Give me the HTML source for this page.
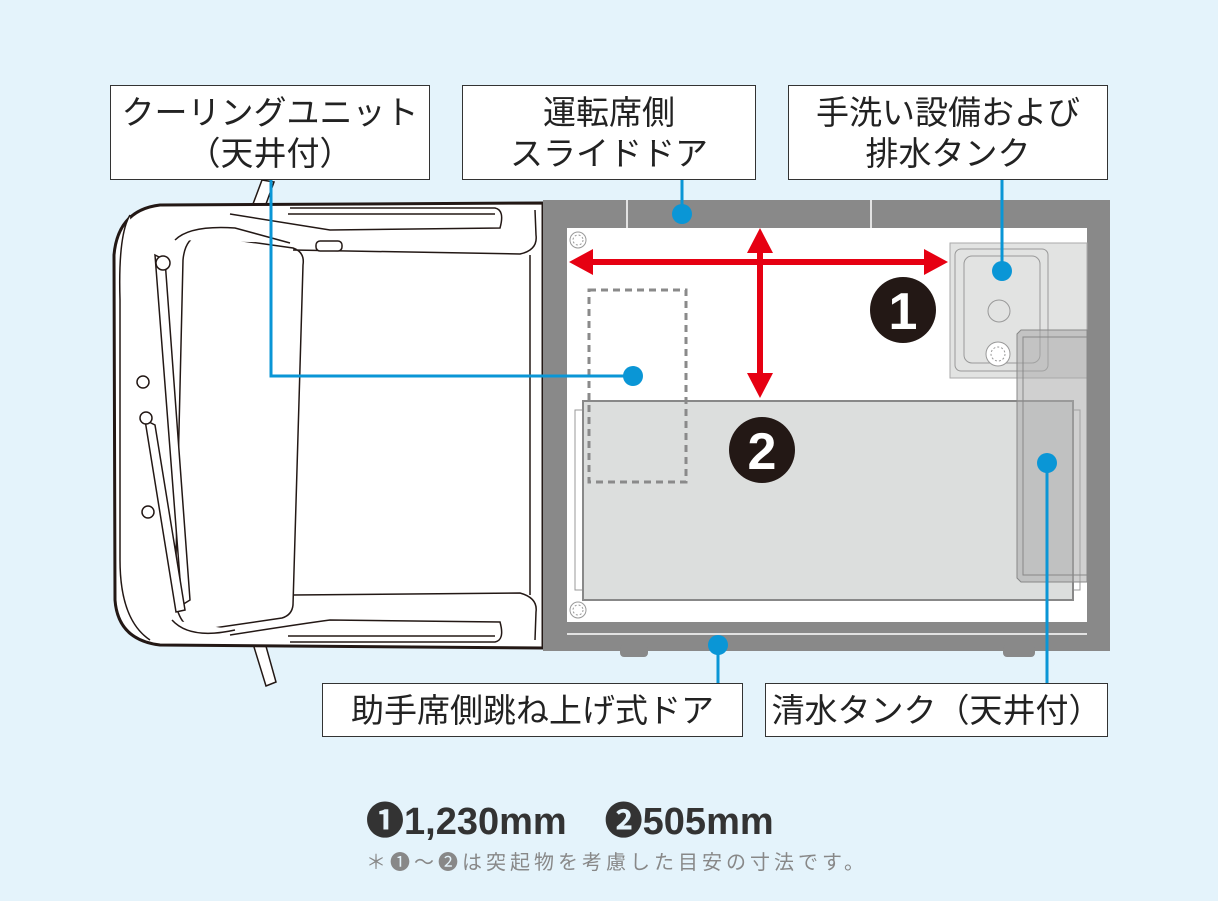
<!DOCTYPE html>
<html><head><meta charset="utf-8"><style>
body{margin:0;width:1218px;height:901px;background:#e4f3fb;overflow:hidden;font-family:"Liberation Sans","Noto Sans CJK JP",sans-serif;}
.lb{position:absolute;background:#fff;border:1.5px solid #333;box-sizing:border-box;color:#222;font-size:33px;line-height:41px;text-align:center;display:flex;align-items:center;justify-content:center;flex-direction:column;}
</style></head><body>
<svg width="1218" height="901" style="position:absolute;left:0;top:0">
<g fill="#fff" stroke="#231815" stroke-width="1.5">
<path d="M262 180 L274 182 L262 215 L250 212 Z"/>
<path d="M250 634 L262 632 L276 682 L266 686 Z"/>
<path d="M160 205 L543 203 L543 648 L160 645 Q118 640 115 600 L114 255 Q118 210 160 205 Z" stroke-width="3"/>
<path d="M130 215 Q118 235 120 300 L120 560 Q120 620 150 640"/>
<path d="M200 235 L293 248 Q305 252 303 265 L293 605 Q292 615 282 618 L200 630 Q180 630 175 600 L183 260 Q185 238 200 235 Z"/>
<path d="M175 240 Q190 225 235 228 L290 243"/>
<path d="M172 620 Q190 640 235 630"/>
<path d="M293 250 L520 254 Q538 250 536 235 L535 210"/>
<path d="M293 595 L520 593 Q538 598 536 612 L535 640"/>
<path d="M230 214 Q300 225 330 230 L500 228 Q505 210 495 208 L290 208"/>
<path d="M230 635 Q300 624 330 620 L500 622 Q505 640 495 642 L290 642"/>
<path d="M288 214 L495 214" fill="none"/>
<path d="M288 636 L495 636" fill="none"/>
<rect x="316" y="241" width="26" height="10" rx="4"/>
<path d="M530 255 L530 595" fill="none"/>
<path d="M155 255 L165 260 L190 600 L182 605 Z"/>
<path d="M145 420 L155 425 L185 610 L176 612 Z"/>
<circle cx="163" cy="263" r="7"/><circle cx="143" cy="382" r="6"/><circle cx="146" cy="418" r="6"/><circle cx="148" cy="512" r="6"/>
</g>
<rect x="543" y="200" width="567" height="451" fill="#898989"/>
<rect x="620" y="645" width="28" height="12" rx="4" fill="#898989"/>
<rect x="1003" y="645" width="32" height="12" rx="4" fill="#898989"/>
<line x1="627" y1="200" x2="627" y2="228" stroke="#fff" stroke-width="1.5"/>
<line x1="871" y1="200" x2="871" y2="228" stroke="#fff" stroke-width="1.5"/>
<rect x="567" y="228" width="520" height="394" fill="#fff"/>
<line x1="567" y1="634" x2="1087" y2="634" stroke="#fff" stroke-width="1.5"/>
<circle cx="578" cy="240" r="8" fill="#fff" stroke="#999"/><circle cx="578" cy="240" r="5" fill="none" stroke="#999" stroke-dasharray="2 2"/>
<circle cx="578" cy="610" r="8" fill="#fff" stroke="#999"/><circle cx="578" cy="610" r="5" fill="none" stroke="#999" stroke-dasharray="2 2"/>
<rect x="950" y="243" width="137" height="135" fill="#e2e3e2" stroke="#aaa"/>
<rect x="955" y="249" width="93" height="122" rx="6" fill="none" stroke="#999"/>
<rect x="964" y="256" width="76" height="107" rx="8" fill="none" stroke="#999"/>
<circle cx="999" cy="311" r="11" fill="none" stroke="#999"/>
<circle cx="998" cy="354" r="12" fill="#fff" stroke="#999"/><circle cx="998" cy="354" r="7" fill="none" stroke="#999" stroke-dasharray="2 2"/>
<rect x="575" y="410" width="8" height="180" fill="#fff" stroke="#999"/>
<rect x="1072" y="410" width="8" height="180" fill="#fff" stroke="#999"/>
<rect x="583" y="401" width="490" height="199" fill="#dcdedd" stroke="#888" stroke-width="2"/>
<path d="M1021 330 L1087 330 L1087 582 L1021 582 L1017 578 L1017 334 Z" fill="#aaa" fill-opacity="0.55" stroke="#888"/>
<rect x="1023" y="337" width="64" height="238" fill="none" stroke="#888"/>
<rect x="589" y="290" width="97" height="192" fill="none" stroke="#8a8a8a" stroke-width="3" stroke-dasharray="7 5"/>
<g fill="#e60012">
<rect x="585" y="259" width="347" height="6"/>
<polygon points="569,262 593,249 593,275"/><polygon points="948,262 924,249 924,275"/>
<rect x="757" y="245" width="6" height="137"/>
<polygon points="760,228 747,253 773,253"/><polygon points="760,398 747,373 773,373"/>
</g>
<circle cx="903" cy="310" r="33" fill="#231815"/>
<text x="903" y="329" fill="#fff" font-size="52" font-weight="bold" text-anchor="middle" font-family="Liberation Sans Narrow,Liberation Sans,sans-serif">1</text>
<circle cx="762" cy="450" r="33" fill="#231815"/>
<text x="762" y="469" fill="#fff" font-size="52" font-weight="bold" text-anchor="middle" font-family="Liberation Sans Narrow,Liberation Sans,sans-serif">2</text>
<g stroke="#0a96d6" stroke-width="3" fill="none">
<polyline points="271,180 271,376 633,376"/>
<line x1="682" y1="180" x2="682" y2="214"/>
<line x1="1002" y1="180" x2="1002" y2="271"/>
<line x1="718" y1="645" x2="718" y2="683"/>
<line x1="1047" y1="463" x2="1047" y2="683"/>
</g>
<g fill="#0a96d6">
<circle cx="682" cy="214" r="10"/><circle cx="1002" cy="271" r="10"/><circle cx="633" cy="376" r="10"/><circle cx="1047" cy="463" r="10"/><circle cx="718" cy="645" r="10"/>
</g>
</svg>
<div class="lb" style="left:110px;top:85px;width:320px;height:95px"><div>クーリングユニット</div><div>（天井付）</div></div>
<div class="lb" style="left:462px;top:85px;width:294px;height:95px"><div>運転席側</div><div>スライドドア</div></div>
<div class="lb" style="left:788px;top:85px;width:320px;height:95px"><div>手洗い設備および</div><div>排水タンク</div></div>
<div class="lb" style="left:322px;top:683px;width:421px;height:54px">助手席側跳ね上げ式ドア</div>
<div class="lb" style="left:765px;top:683px;width:343px;height:54px">清水タンク（天井付）</div>
<div style="position:absolute;left:366px;top:790px;font-size:38px;font-weight:bold;color:#333;white-space:nowrap">❶1,230mm　❷505mm</div>
<div style="position:absolute;left:366px;top:846px;font-size:20px;letter-spacing:4px;color:#888;white-space:nowrap">＊❶〜❷は突起物を考慮した目安の寸法です。</div>
</body></html>
